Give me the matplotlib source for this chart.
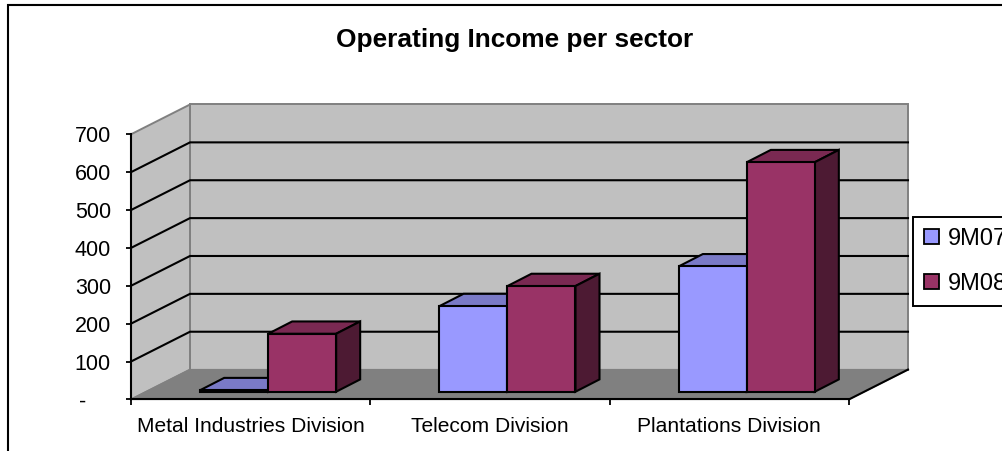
import matplotlib
matplotlib.use("Agg")
import matplotlib.pyplot as plt
from matplotlib.patches import Polygon, Patch
from matplotlib.transforms import ScaledTranslation

plt.rcParams["font.family"] = ["Liberation Sans", "DejaVu Sans"]

categories = ["Metal Industries Division", "Telecom Division", "Plantations Division"]
series_names = ["9M07", "9M08"]
values_9m07 = [4, 226, 331]
values_9m08 = [153, 279, 606]
y_ticks = [0, 100, 200, 300, 400, 500, 600, 700]
y_tick_labels = ["-", "100", "200", "300", "400", "500", "600", "700"]

W, H = 1003, 451
fig = plt.figure(figsize=(W / 100, H / 100), dpi=100, facecolor="white")

# Axes rectangle covers the front plane of the oblique box
left, right, top, bottom = 131, 849, 134.3, 399.4
ax = fig.add_axes([left / W, 1 - bottom / H, (right - left) / W, (bottom - top) / H])
ax.set_xlim(0, 3)
ax.set_ylim(0, 700)
ax.patch.set_visible(False)

px_x = 3 / (right - left)
px_y = 700 / (bottom - top)
wall_dx, wall_dy = 59 * px_x, 29.8 * px_y

WALL, FLOOR, EDGE = "#C0C0C0", "#808080", "#808080"


def poly(points, face, edge="none", lw=0.0, z=1):
    ax.add_patch(Polygon(points, closed=True, facecolor=face, edgecolor=edge,
                         linewidth=lw, zorder=z, clip_on=False, joinstyle="miter"))


# Walls and floor
poly([(wall_dx, wall_dy), (3 + wall_dx, wall_dy), (3 + wall_dx, 700 + wall_dy), (wall_dx, 700 + wall_dy)],
     WALL, EDGE, 1.4, 1)
poly([(0, 0), (wall_dx, wall_dy), (wall_dx, 700 + wall_dy), (0, 700)], WALL, EDGE, 1.4, 1)
poly([(0, 0), (3, 0), (3 + wall_dx, wall_dy), (wall_dx, wall_dy)], FLOOR, EDGE, 1.0, 1.1)

# Gridlines run along the side wall and then the back wall
for v in y_ticks[1:-1]:
    ax.plot([0, wall_dx, 3 + wall_dx], [v, v + wall_dy, v + wall_dy], color="black", lw=1.5,
            zorder=2, clip_on=False, solid_joinstyle="miter")
ax.plot([3, 3 + wall_dx], [0, wall_dy], color="black", lw=1.5, zorder=2, clip_on=False)

# Bars: front face from ax.bar, top and side as oblique faces
bar_w = 68 * px_x
shift_x, shift_y = 17.5 * px_x, 7.7 * px_y
depth_x, depth_y = 24 * px_x, 12.3 * px_y
colours = [("#9999FF", "#7A7AC7", "#4D4D80"), ("#993366", "#7A2952", "#4D1A33")]
for s, vals in enumerate([values_9m07, values_9m08]):
    front, top_c, side_c = colours[s]
    for c, v in enumerate(vals):
        x0 = c + 0.5 + shift_x + (s - 1) * bar_w
        x1 = x0 + bar_w
        y0, y1 = shift_y, shift_y + v
        z = 3 + s + c * 0.01
        poly([(x0, y1), (x1, y1), (x1 + depth_x, y1 + depth_y), (x0 + depth_x, y1 + depth_y)],
             top_c, "black", 1.5, z)
        poly([(x1, y0), (x1 + depth_x, y0 + depth_y), (x1 + depth_x, y1 + depth_y), (x1, y1)],
             side_c, "black", 1.5, z)
        ax.bar(x0, v, width=bar_w, bottom=y0, align="edge", color=front, edgecolor="black",
               linewidth=1.5, zorder=z + 0.001, clip_on=False)

# Axes furniture
for name in ("top", "right"):
    ax.spines[name].set_visible(False)
for name in ("left", "bottom"):
    ax.spines[name].set_linewidth(1.5)
    ax.spines[name].set_zorder(2.5)
ax.set_xticks([0, 1, 2, 3])
ax.set_xticklabels([])
ax.set_xticks([0.5, 1.5, 2.5], minor=True)
ax.set_xticklabels(categories, minor=True, fontsize=15.1)
ax.tick_params(axis="x", which="major", length=4, width=1.3, direction="out")
ax.tick_params(axis="x", which="minor", length=0, pad=13)
ax.set_yticks(y_ticks)
ax.set_yticklabels(y_tick_labels, fontsize=15.5)
ax.tick_params(axis="y", length=3.5, width=1.3, direction="out", pad=11)
# The zero label sits further out than the numbers
dash = ax.get_yticklabels()[0]
dash.set_transform(dash.get_transform() + ScaledTranslation(-25 / 100, 0, fig.dpi_scale_trans))

fig.text(515 / W, 1 - 39.5 / H, "Operating Income per sector", ha="center", va="center",
         fontsize=18.9, fontweight="bold", color="black")

# Outer chart frame along the top and left edges, with a faint line above it
fig.add_artist(plt.Line2D([8 / W, 1], [1 - 3.5 / H, 1 - 3.5 / H], color="#C8C8C8", lw=0.8))
fig.add_artist(plt.Line2D([8 / W, 8 / W, 1], [0, 1 - 5 / H, 1 - 5 / H], color="black", lw=1.5,
                          solid_joinstyle="miter"))

handles = [Patch(facecolor=colours[i][0], edgecolor="black", linewidth=1.3, label=series_names[i]) for i in range(2)]
leg = fig.legend(handles=handles, loc="upper left", bbox_to_anchor=(913 / W, 1 - 217 / H),
                 bbox_transform=fig.transFigure, fontsize=17, frameon=True, fancybox=False,
                 edgecolor="black", facecolor="white", framealpha=1, borderaxespad=0,
                 handlelength=0.65, handleheight=0.6, handletextpad=0.35, labelspacing=0.95,
                 borderpad=0.47)
leg.get_frame().set_linewidth(1.4)

fig.savefig("out.png", dpi=100)
